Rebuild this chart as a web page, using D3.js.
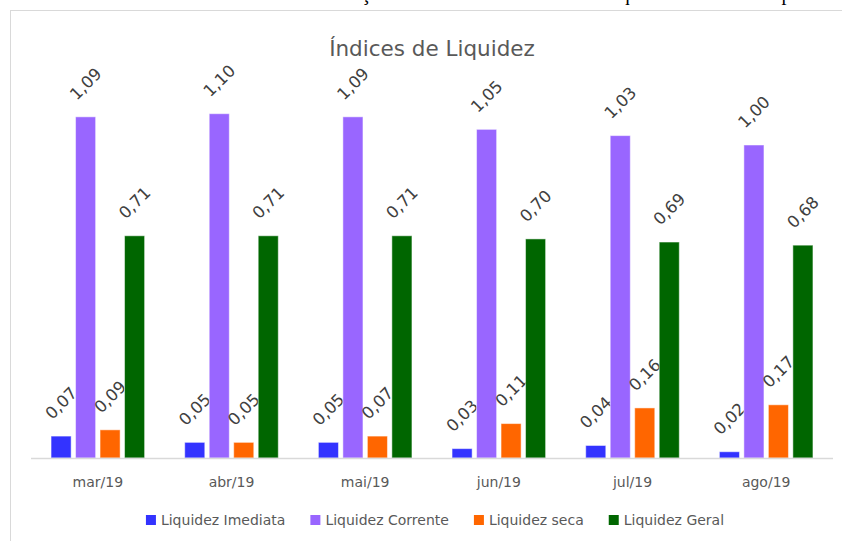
<!DOCTYPE html>
<html>
<head>
<meta charset="utf-8">
<script src="https://cdn.jsdelivr.net/npm/d3@7"></script>
<style>
  body { margin: 0; background: #ffffff; }
  svg { display: block; }
</style>
</head>
<body>
<svg width="842" height="541"></svg>
<script>
// Data
const meses = ['mar/19', 'abr/19', 'mai/19', 'jun/19', 'jul/19', 'ago/19'];
const series = ['Liquidez Imediata', 'Liquidez Corrente', 'Liquidez seca', 'Liquidez Geral'];
const liquidezImediata = [0.07, 0.05, 0.05, 0.03, 0.04, 0.02];
const liquidezCorrente = [1.09, 1.10, 1.09, 1.05, 1.03, 1.00];
const liquidezSeca = [0.09, 0.05, 0.07, 0.11, 0.16, 0.17];
const liquidezGeral = [0.71, 0.71, 0.71, 0.70, 0.69, 0.68];
const cores = ['#3333ff', '#9966ff', '#ff6600', '#006600'];

const valores = [liquidezImediata, liquidezCorrente, liquidezSeca, liquidezGeral];

const svg = d3.select("svg");
const baseY = 458;

// text of the page above the chart, cut off at the top
svg.append("text")
    .attr("x", 8)
    .attr("y", -0.5)
    .attr("textLength", 834)
    .style("font-family", "'Liberation Serif', serif")
    .style("font-size", "20px")
    .style("fill", "#000")
    .text("Gráfico 1 – Análise da variação dos índices de liquidez da empresa");

// chart frame
svg.append("rect")
    .attr("x", 10.5)
    .attr("y", 10.5)
    .attr("width", 850)
    .attr("height", 560)
    .style("fill", "#fff")
    .style("stroke", "#d9d9d9")
    .style("stroke-width", 1);

// title
svg.append("text")
    .attr("x", 432)
    .attr("y", 56)
    .attr("text-anchor", "middle")
    .style("font-family", "'DejaVu Sans', sans-serif")
    .style("font-size", "21.5px")
    .style("fill", "#595959")
    .text("Índices de Liquidez");

const x = d3.scaleBand()
    .domain(meses)
    .range([31, 833])
    .paddingInner(0.3)
    .paddingOuter(0.15);

const xSerie = d3.scaleBand()
    .domain(series)
    .range([0, x.bandwidth()])
    .paddingInner(0.18);

const y = d3.scaleLinear()
    .domain([0, 1.2])
    .range([baseY, baseY - 1.2 * 313]);

// bars + labels
series.forEach(function (s, i) {
    const g = svg.append("g");
    const dados = meses.map((m, j) => ({ mes: m, v: valores[i][j] }));

    g.selectAll("rect")
        .data(dados)
        .enter()
        .append("rect")
        .attr("x", d => x(d.mes) + xSerie(s))
        .attr("y", d => y(d.v))
        .attr("width", xSerie.bandwidth())
        .attr("height", d => baseY - y(d.v))
        .style("fill", cores[i])
        .style("stroke", "#ffffff")
        .style("stroke-opacity", 0.5)
        .style("stroke-width", 1);

    g.selectAll("text")
        .data(dados)
        .enter()
        .append("text")
        .attr("transform", d => "translate(" + (x(d.mes) + xSerie(s) + xSerie.bandwidth() / 2) + "," + (y(d.v) - 33) + ") rotate(-45)")
        .attr("text-anchor", "middle")
        .attr("dy", "0.35em")
        .style("font-family", "'DejaVu Sans', sans-serif")
        .style("font-size", "16.5px")
        .style("fill", "#404040")
        .text(d => d.v.toFixed(2).replace(".", ","));
});

// x axis
const eixo = svg.append("g")
    .attr("transform", "translate(0," + baseY + ")")
    .call(d3.axisBottom(x).tickSize(0).tickPadding(19));

eixo.select(".domain")
    .attr("d", "M31,0.5H833")
    .style("stroke", "#d9d9d9")
    .style("stroke-width", 1.5);

eixo.selectAll("text")
    .style("font-family", "'DejaVu Sans', sans-serif")
    .style("font-size", "14px")
    .style("fill", "#595959");

// legend
const legenda = svg.append("g");
let lx = 0;
series.forEach(function (s, i) {
    const item = legenda.append("g").attr("transform", "translate(" + lx + ",0)");
    item.append("rect")
        .attr("x", 0)
        .attr("y", 515)
        .attr("width", 10)
        .attr("height", 10)
        .style("fill", cores[i]);
    const t = item.append("text")
        .attr("x", 15)
        .attr("y", 525)
        .style("font-family", "'DejaVu Sans', sans-serif")
        .style("font-size", "14px")
        .style("fill", "#595959")
        .text(s);
    lx = lx + 15 + t.node().getComputedTextLength() + 25;
});
const larguraLegenda = lx - 25;
legenda.attr("transform", "translate(" + (435 - larguraLegenda / 2) + ",0)");
</script>
</body>
</html>
